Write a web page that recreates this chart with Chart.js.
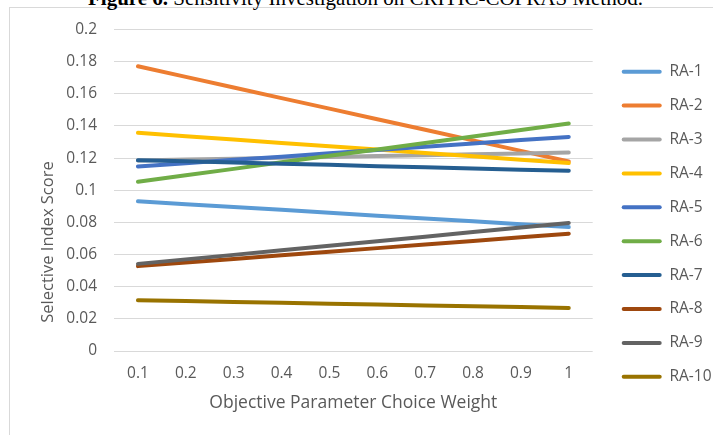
<!DOCTYPE html>
<html>
<head>
<meta charset="utf-8">
<script src="https://cdn.jsdelivr.net/npm/chart.js@4/dist/chart.umd.min.js"></script>
<style>
  html, body { margin: 0; padding: 0; background: #fff; overflow: hidden; }
  #wrap { position: relative; width: 713px; height: 435px; overflow: hidden; background: #fff; }
  #frame { position: absolute; left: 9px; top: 7px; width: 800px; height: 500px; border: 1px solid #d9d9d9; box-sizing: border-box; }
  #caption { position: absolute; left: 88px; top: -12.5px; white-space: nowrap; font-family: "Liberation Serif", "Times New Roman", serif; font-size: 21px; line-height: 21px; color: #000; }
  #caption b { font-weight: bold; }
  canvas { position: absolute; left: 0; top: 0; }
</style>
</head>
<body>
<div id="wrap">
  <div id="frame"></div>
  <div id="caption"><b>Figure 6.</b> Sensitivity Investigation on CRITIC-COPRAS Method.</div>
  <canvas id="c" width="713" height="435"></canvas>
</div>
<script>
// Objective parameter choice weights (x categories)
const weights = ['0.1', '0.2', '0.3', '0.4', '0.5', '0.6', '0.7', '0.8', '0.9', '1'];
const yTickLabels = ['0', '0.02', '0.04', '0.06', '0.08', '0.1', '0.12', '0.14', '0.16', '0.18', '0.2'];

// Selective index score of each alternative
const ra1  = [0.0931, 0.0913, 0.0896, 0.0878, 0.0860, 0.0842, 0.0824, 0.0807, 0.0789, 0.0771];
const ra2  = [0.1771, 0.1705, 0.1639, 0.1573, 0.1508, 0.1442, 0.1376, 0.1310, 0.1245, 0.1179];
const ra3  = [0.1185, 0.1191, 0.1196, 0.1202, 0.1207, 0.1213, 0.1218, 0.1224, 0.1229, 0.1235];
const ra4  = [0.1357, 0.1336, 0.1315, 0.1294, 0.1273, 0.1253, 0.1232, 0.1211, 0.1190, 0.1169];
const ra5  = [0.1148, 0.1168, 0.1189, 0.1209, 0.1230, 0.1250, 0.1271, 0.1291, 0.1312, 0.1332];
const ra6  = [0.1053, 0.1093, 0.1133, 0.1174, 0.1214, 0.1254, 0.1294, 0.1334, 0.1375, 0.1415];
const ra7  = [0.1187, 0.1180, 0.1172, 0.1165, 0.1158, 0.1150, 0.1143, 0.1136, 0.1128, 0.1121];
const ra8  = [0.0528, 0.0550, 0.0573, 0.0595, 0.0618, 0.0640, 0.0663, 0.0685, 0.0707, 0.0730];
const ra9  = [0.0542, 0.0570, 0.0598, 0.0627, 0.0655, 0.0683, 0.0711, 0.0740, 0.0768, 0.0796];
const ra10 = [0.0316, 0.0311, 0.0305, 0.0300, 0.0294, 0.0289, 0.0283, 0.0278, 0.0273, 0.0267];

const seriesNames = ['RA-1', 'RA-2', 'RA-3', 'RA-4', 'RA-5', 'RA-6', 'RA-7', 'RA-8', 'RA-9', 'RA-10'];
const seriesData = [ra1, ra2, ra3, ra4, ra5, ra6, ra7, ra8, ra9, ra10];
const seriesColors = ['#5b9bd5', '#ed7d31', '#a5a5a5', '#ffc000', '#4472c4',
                      '#70ad47', '#255e91', '#9e480e', '#636363', '#997300'];

const TEXT = '#595959';
const FONT = '"Open Sans", "Liberation Sans", sans-serif';

const datasets = seriesNames.map((name, i) => ({
  label: name,
  data: seriesData[i],
  borderColor: seriesColors[i],
  backgroundColor: seriesColors[i],
  borderWidth: 4,
  borderCapStyle: 'round',
  borderJoinStyle: 'round',
  pointRadius: 0,
  pointHoverRadius: 0,
  tension: 0,
  fill: false,
  // later series are painted over earlier ones
  order: seriesNames.length - i
}));

// Moves the legend column into place beside the plot
const legendNudge = {
  id: 'legendNudge',
  afterLayout(chart) {
    const lg = chart.legend;
    if (!lg) return;
    const dx = 10.6, dy = -8;
    lg.left += dx; lg.right += dx;
    lg.top += dy; lg.bottom += dy;
  }
};

// Vertical value-axis caption
const yCaption = {
  id: 'yCaption',
  afterDraw(chart) {
    const ctx = chart.ctx;
    ctx.save();
    ctx.translate(48, 242);
    ctx.rotate(-Math.PI / 2);
    ctx.font = '16.5px ' + FONT;
    ctx.fillStyle = TEXT;
    ctx.textAlign = 'center';
    ctx.textBaseline = 'middle';
    ctx.fillText('Selective Index Score', 0, 0);
    ctx.restore();
  }
};

new Chart(document.getElementById('c'), {
  type: 'line',
  data: { labels: weights, datasets },
  options: {
    responsive: false,
    animation: false,
    events: [],
    layout: { padding: { top: 29.5, left: 0, right: 10.3, bottom: 0 } },
    plugins: {
      tooltip: { enabled: false },
      title: { display: false },
      legend: {
        position: 'right',
        maxWidth: 110,
        labels: {
          color: TEXT,
          font: { family: FONT, size: 15.5 },
          boxWidth: 40,
          boxHeight: 4,
          padding: 18.4,
          useBorderRadius: true,
          borderRadius: 2,
          sort: (a, b) => a.datasetIndex - b.datasetIndex,
          generateLabels(chart) {
            return Chart.defaults.plugins.legend.labels.generateLabels(chart).map(item => ({
              ...item,
              fillStyle: item.strokeStyle,
              lineWidth: 0,
              borderRadius: 2
            }));
          }
        }
      }
    },
    scales: {
      x: {
        type: 'category',
        offset: true,
        grid: { display: false, drawTicks: false },
        border: { display: false },
        ticks: { color: TEXT, font: { family: FONT, size: 15.5 }, padding: 13.5, maxRotation: 0, autoSkip: false },
        title: {
          display: true,
          text: 'Objective Parameter Choice Weight',
          color: TEXT,
          font: { family: FONT, size: 17.5 },
          padding: { top: 0, bottom: 21.5 }
        },
        afterFit(scale) { scale.height = 435 - 351; }
      },
      y: {
        type: 'linear',
        min: 0,
        max: 0.2,
        grid: { color: '#d9d9d9', lineWidth: 1, drawTicks: false },
        border: { display: false },
        ticks: {
          stepSize: 0.02,
          color: TEXT,
          font: { family: FONT, size: 15.5 },
          padding: 17,
          callback: (v, i) => yTickLabels[i]
        },
        afterFit(scale) { scale.width = 114; }
      }
    }
  },
  plugins: [legendNudge, yCaption]
});
</script>
</body>
</html>
